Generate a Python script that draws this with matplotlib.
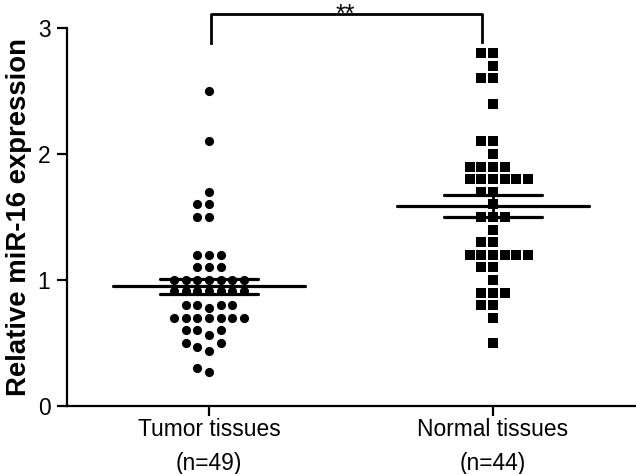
import numpy as np
import matplotlib
matplotlib.use("Agg")
import matplotlib.pyplot as plt

plt.rcParams['font.family'] = ['Liberation Sans', 'DejaVu Sans']

# ---- data ----
categories = ["Tumor tissues\n(n=49)", "Normal tissues\n(n=44)"]
tumor = [2.5, 2.1, 1.7, 1.6, 1.6, 1.5, 1.5,
         1.2, 1.2, 1.2, 1.1, 1.1, 1.1,
         1.0, 1.0, 1.0, 1.0, 1.0, 1.0, 1.0,
         0.91, 0.91, 0.91, 0.91, 0.91, 0.91, 0.91,
         0.78, 0.8, 0.8, 0.8, 0.8,
         0.7, 0.7, 0.7, 0.7, 0.7, 0.7, 0.7,
         0.56, 0.6, 0.6, 0.6,
         0.44, 0.47, 0.5, 0.5,
         0.27, 0.3]
normal = [2.8, 2.8, 2.7, 2.6, 2.6, 2.4, 2.1, 2.1, 2.0,
          1.9, 1.9, 1.9, 1.9,
          1.8, 1.8, 1.8, 1.8, 1.8, 1.8,
          1.7, 1.7, 1.6, 1.5, 1.5, 1.5, 1.4, 1.3, 1.3,
          1.2, 1.2, 1.2, 1.2, 1.2, 1.2,
          1.1, 1.1, 1.0, 0.9, 0.9, 0.9, 0.8, 0.8, 0.7, 0.5]
yticks = [0, 1, 2, 3]
ylabel = "Relative miR-16 expression"
sig_label = "**"

# ---- figure ----
W, H = 636, 474
fig = plt.figure(figsize=(W / 100, H / 100), dpi=100)
ax = fig.add_axes([67 / W, (H - 406) / H, (635 - 67) / W, (406 - 28) / H])

order = [0, -1, 1, -2, 2, 3, -3, 4, -4]
step = 0.041


def swarm_x(vals, center, tol=0.07):
    # cluster close values into rows, spread each row sideways
    xs = []
    start = None
    i = 0
    for v in vals:
        if start is None or abs(v - start) >= tol:
            start = v
            i = 0
        xs.append(center + order[i] * step)
        i += 1
    return np.array(xs)


positions = [1, 2]
groups = [tumor, normal]
markers = ['o', 's']
msizes = [6.6, 6.9]
for pos, vals, mk, ms in zip(positions, groups, markers, msizes):
    xs = swarm_x(vals, pos)
    ax.plot(xs, vals, linestyle='none', marker=mk, markersize=ms,
            color='black', markeredgewidth=0, zorder=3)
    arr = np.array(vals)
    m = arr.mean()
    sem = arr.std(ddof=1) / np.sqrt(len(arr))
    ax.plot([pos - 0.338, pos + 0.338], [m, m], color='black', lw=2.3,
            solid_capstyle='round', zorder=4)
    for yy in (m - sem, m + sem):
        ax.plot([pos - 0.173, pos + 0.173], [yy, yy], color='black', lw=2.3,
                solid_capstyle='round', zorder=4)
    ax.plot([pos, pos], [m - sem, m + sem], color='black', lw=2.0, zorder=4)

# significance bracket
bx0, bx1 = 1.007, 1.96
ax.plot([bx0, bx0, bx1, bx1], [2.88, 3.11, 3.11, 2.89], color='black',
        lw=2.0, clip_on=False, solid_joinstyle='round', zorder=5)
ax.text((1 + 1.96) / 2, 3.045, sig_label, ha='center', va='baseline',
        fontsize=18, clip_on=False)

ax.set_xlim(0.5, 2.5)
ax.set_ylim(0, 3)
ax.set_yticks(yticks)
ax.set_yticklabels([str(t) for t in yticks])
ax.set_xticks(positions)
ax.set_xticklabels(categories, linespacing=1.6)
ax.set_ylabel(ylabel, fontsize=19.8, fontweight='bold', labelpad=4)

for s in ('top', 'right'):
    ax.spines[s].set_visible(False)
for s in ('left', 'bottom'):
    ax.spines[s].set_linewidth(1.6)
ax.tick_params(axis='both', width=1.6, length=7, labelsize=16.4, direction='out')
ax.tick_params(axis='y', pad=5)
ax.tick_params(axis='x', pad=2)

fig.savefig("out.png", dpi=100)
